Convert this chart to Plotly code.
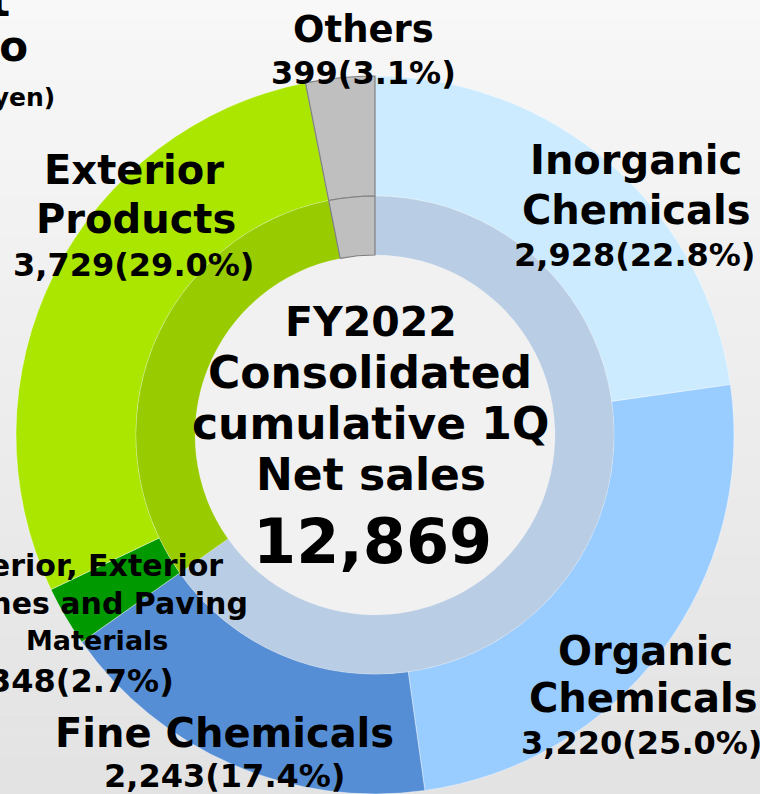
import plotly.graph_objects as go

# Net sales by segment (100 million yen), clockwise from 12 o'clock
segments = ["Inorganic Chemicals", "Organic Chemicals", "Fine Chemicals",
            "Interior, Exterior Finishes and Paving Materials",
            "Exterior Products", "Others"]
sales = [2928, 3220, 2243, 348, 3729, 399]
share_pct = [22.8, 25.0, 17.4, 2.7, 29.0, 3.1]
total_sales = 12869

# inner ring groups
groups = ["Chemicals", "Housing Materials", "Others"]
group_members = [[0, 1, 2], [3, 4], [5]]

W, H = 760, 794

COLORS = {
    'seg': ['#CCEBFF', '#99CCFF', '#558ED5', '#009900', '#AAE600', '#BFBFBF'],
    'grp': ['#B9CDE5', '#99CC00', '#BFBFBF'],
    'edge': '#7F7F7F',
}
FONT = "DejaVu Sans"


def px(x):
    return x / W


def py(y):
    return 1 - y / H


group_sales = [sum(sales[i] for i in m) for m in group_members]

# geometry (pixels)
cx, cy = 375, 435
r_out, r_mid, r_hole = 359, 239, 180

fig = go.Figure()

# outer ring: segments
fig.add_trace(go.Pie(
    labels=segments,
    values=sales,
    sort=False,
    direction='clockwise',
    rotation=0,
    hole=r_mid / r_out,
    textinfo='none',
    marker=dict(
        colors=COLORS['seg'],
        line=dict(color=['rgba(255,255,255,0.5)'] * 5 + [COLORS['edge']],
                  width=[0.8] * 5 + [1.2]),
    ),
    domain=dict(x=[px(cx - r_out), px(cx + r_out)],
                y=[py(cy + r_out), py(cy - r_out)]),
    showlegend=False,
))

# inner ring: segment groups
fig.add_trace(go.Pie(
    labels=groups,
    values=group_sales,
    sort=False,
    direction='clockwise',
    rotation=0,
    hole=r_hole / r_mid,
    textinfo='none',
    marker=dict(
        colors=COLORS['grp'],
        line=dict(color=['rgba(255,255,255,0.3)'] * 2 + [COLORS['edge']],
                  width=[0.5] * 2 + [1.2]),
    ),
    domain=dict(x=[px(cx - r_mid), px(cx + r_mid)],
                y=[py(cy + r_mid), py(cy - r_mid)]),
    showlegend=False,
))

# background gradient bands + centre disc
shapes = []
n_bands = 40
for i in range(n_bands):
    g = int(248 - (248 - 227) * i / (n_bands - 1))
    shapes.append(dict(
        type='rect', xref='paper', yref='paper', layer='below',
        x0=0, x1=1, y0=1 - (i + 1) / n_bands, y1=1 - i / n_bands,
        fillcolor=f'rgb({g},{g},{g})', line=dict(width=0),
    ))
shapes.append(dict(
    type='circle', xref='paper', yref='paper', layer='below',
    x0=px(cx - r_hole), x1=px(cx + r_hole),
    y0=py(cy + r_hole), y1=py(cy - r_hole),
    fillcolor='#F1F1F1', line=dict(width=0),
))


def lbl(n):
    return f"{sales[n]:,}({share_pct[n]:.1f}%)"


# (text, x, y, size, xanchor)
texts = [
    ("Others", 363, 30, 37, 'center'),
    (lbl(5), 363, 73, 32, 'center'),
    ("Inorganic", 636, 160, 40, 'center'),
    ("Chemicals", 636, 210, 40, 'center'),
    (lbl(0), 634, 255, 32, 'center'),
    ("Organic", 645, 651, 40, 'center'),
    ("Chemicals", 643, 698, 40, 'center'),
    (lbl(1), 641, 743, 32, 'center'),
    ("Fine Chemicals", 225, 733, 40, 'center'),
    (lbl(2), 225, 776, 32, 'center'),
    ("Exterior", 134, 170, 40, 'center'),
    ("Products", 136, 219, 40, 'center'),
    (lbl(4), 133, 265, 32, 'center'),
    ("Interior, Exterior", 225, 565, 30, 'right'),
    ("Finishes and Paving", 250, 603, 30, 'right'),
    ("Materials", 97, 640, 27, 'center'),
    (lbl(3), 176, 681, 32, 'right'),
    ("FY2022", 371, 322, 41, 'center'),
    ("Consolidated", 370, 372, 44, 'center'),
    ("cumulative 1Q", 370, 423, 44, 'center'),
    ("Net sales", 371, 474, 44, 'center'),
    (f"{total_sales:,}", 372, 541, 62, 'center'),
    ("Sales by Segment", 12, 2, 42, 'right'),
    ("Ratio", 30, 47, 42, 'right'),
    ("(Unit: 100 million yen)", 57, 98, 25, 'right'),
]

annotations = []
for t, x, y, s, xa in texts:
    annotations.append(dict(
        text=f"<b>{t}</b>", x=px(x), y=py(y), xref='paper', yref='paper',
        xanchor=xa, yanchor='middle', showarrow=False,
        font=dict(family=FONT, size=s, color='black'),
    ))

fig.update_layout(
    width=W, height=H,
    margin=dict(l=0, r=0, t=0, b=0),
    paper_bgcolor='#EFEFEF',
    plot_bgcolor='#EFEFEF',
    shapes=shapes,
    annotations=annotations,
    font=dict(family=FONT),
)

fig.write_html(
    "out.html",
    config={'displayModeBar': False},
    post_script="document.body.style.margin='0';"
                "document.body.style.overflow='hidden';",
)
